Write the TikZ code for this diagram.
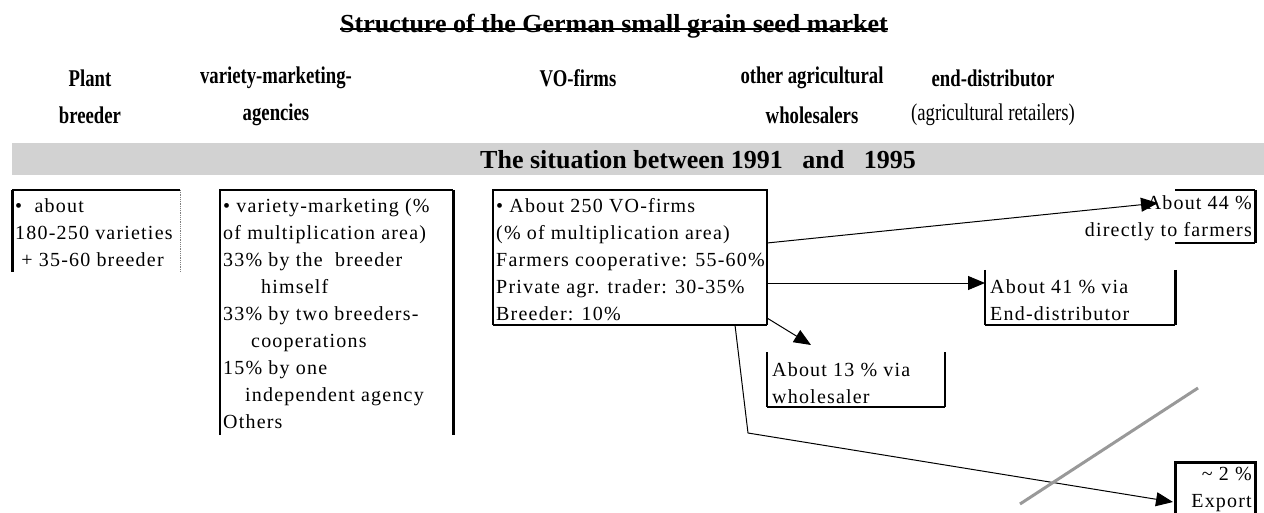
\documentclass[tikz,border=0pt]{standalone}
\usepackage{fontspec}
\setmainfont{Liberation Serif}
\newfontfamily\bodyf[LetterSpace=6]{Liberation Serif}
\newfontfamily\headf[FakeStretch=0.78]{Liberation Serif}
\usetikzlibrary{arrows.meta}
\begin{document}
\begin{tikzpicture}[x=1pt,y=-1pt,
  hdr/.style={font=\headf\bfseries\fontsize{24}{28}\selectfont, inner sep=0pt, anchor=center},
  hdrreg/.style={font=\headf\fontsize{24}{28}\selectfont, inner sep=0pt, anchor=center},
  body/.style={font=\bodyf\fontsize{20}{27}\selectfont, align=left, inner sep=0pt, anchor=north west},
  area/.style={inner sep=0pt, outer sep=0pt, anchor=north west, draw=none},
  edgethin/.style={line width=1.2pt},
  edgethick/.style={line width=3pt},
  arr/.style={line width=1pt, -{Triangle[length=17pt,width=14pt]}}
]
\useasboundingbox (0,0) rectangle (1264,513);
% title
\node[font=\bfseries\fontsize{26}{30}\selectfont, inner sep=0pt, anchor=base] (title) at (614,33) {Structure of the German small grain seed market};
\draw[line width=2pt] (title.west |- 0,29) -- (title.east |- 0,29);
% column headers
\node[hdr] (h1a) at (90,78) {Plant};
\node[hdr] (h1b) at (90,115) {breeder};
\node[hdr] (h2a) at (276,78) {variety-marketing-};
\node[hdr] (h2b) at (276,115) {agencies};
\node[hdr] (h3a) at (578,78) {VO-firms};
\node[hdr] (h4a) at (812,78) {other agricultural};
\node[hdr] (h4b) at (812,115) {wholesalers};
\node[hdr] (h5a) at (993,78) {end-distributor};
\node[hdrreg] (h5b) at (993,115) {(agricultural retailers)};
% band
\node[area, fill=gray!35, minimum width=1252pt, minimum height=32pt] (band) at (12,143) {};
\node[font=\bfseries\fontsize{26}{30}\selectfont, inner sep=0pt, anchor=center] (bandt) at (698,160) {The situation between 1991\ \ \ and\ \ \ 1995};
% boxes (areas)
\node[area, minimum width=168pt, minimum height=82pt] (pb) at (12,190) {};
\node[area, minimum width=233pt, minimum height=245pt] (vm) at (220,190) {};
\node[area, minimum width=274pt, minimum height=135pt] (vo) at (493,190) {};
\node[area, minimum width=178pt, minimum height=55pt] (ws) at (767,352) {};
\node[area, minimum width=190pt, minimum height=55pt] (ed) at (985,270) {};
\node[area, minimum width=80pt, minimum height=53pt] (fa) at (1175,190) {};
\node[area, minimum width=80pt, minimum height=60pt] (ex) at (1175,462) {};
% box texts
\node[body] (pbt) at ([xshift=3pt,yshift=-8pt]pb.north west) {\textbullet\ \ about\\180-250 varieties\\\ + 35-60 breeder};
\node[body] (vmt) at ([xshift=3pt,yshift=-8pt]vm.north west) {\textbullet\ variety-marketing (\%\\of multiplication area)\\33\% by the\ \ breeder\\\hspace{1.9em}himself\\33\% by two breeders-\\\hspace{1.4em}cooperations\\15\% by one\\\hspace{1.1em}independent agency\\Others};
\node[body] (vot) at ([xshift=3pt,yshift=-8pt]vo.north west) {\textbullet\ About 250 VO-firms\\(\% of multiplication area)\\Farmers cooperative: 55-60\%\\Private agr. trader: 30-35\%\\Breeder: 10\%};
\node[body] (wst) at ([xshift=5pt,yshift=-10pt]ws.north west) {About 13 \% via\\wholesaler};
\node[body] (edt) at ([xshift=5pt,yshift=-9pt]ed.north west) {About 41 \% via\\End-distributor};
\node[body, align=right, anchor=north east] (fat) at ([xshift=-3pt,yshift=-5pt]fa.north east) {About 44 \%\\directly to farmers};
\node[body, align=right, anchor=north east] (ext) at ([xshift=-3pt,yshift=-5pt]ex.north east) {\textasciitilde\ 2 \%\\Export};
% box edges
\draw[edgethick] (pb.north west) -- (pb.south west);
\draw[edgethin] (pb.north west) -- (pb.north east);
\draw[gray, line width=0.8pt, densely dotted] (pb.north east) -- (pb.south east);
\draw[edgethin] (vm.south west) -- (vm.north west) -- (vm.north east);
\draw[edgethick] (vm.north east) -- (vm.south east);
\draw[edgethin] (vo.south west) -- (vo.north west) -- (vo.north east) -- (vo.south east);
\draw[line width=2.5pt] (vo.south west) -- (vo.south east);
\draw[edgethin] (ws.north west) -- (ws.south west);
\draw[edgethin] (ws.north east) -- (ws.south east);
\draw[line width=2.5pt] (ws.south west) -- (ws.south east);
\draw[edgethin] (ed.north west) -- (ed.south west);
\draw[edgethick] (ed.north east) -- (ed.south east);
\draw[line width=2.5pt] (ed.south west) -- (ed.south east);
\draw[edgethin] (fa.north west) -- (fa.north east);
\draw[edgethick] (fa.north east) -- (fa.south east);
\draw[edgethin] (fa.south west) -- (fa.south east);
\draw[edgethick] (ex.south west) -- (ex.north west) -- (ex.north east) -- (ex.south east);
% connectors
\coordinate (a1s) at (767,243);
\coordinate (a1e) at (1158,203);
\coordinate (a2s) at (767,283);
\coordinate (a3s) at (767,318);
\coordinate (a3e) at (811,345);
\coordinate (a4s) at (735,325);
\coordinate (a4b) at (748,433);
\coordinate (a4e) at (1173,502);
\draw[arr] (a1s) -- (a1e);
\draw[arr] (a2s) -- (a2s -| ed.west);
\draw[arr] (a3s) -- (a3e);
\draw[arr] (a4s) -- (a4b) -- (a4e);
% grey stroke
\coordinate (g1) at (1198,388);
\coordinate (g2) at (1020,504);
\draw[gray!80, line width=3pt] (g1) -- (g2);
\end{tikzpicture}
\end{document}
